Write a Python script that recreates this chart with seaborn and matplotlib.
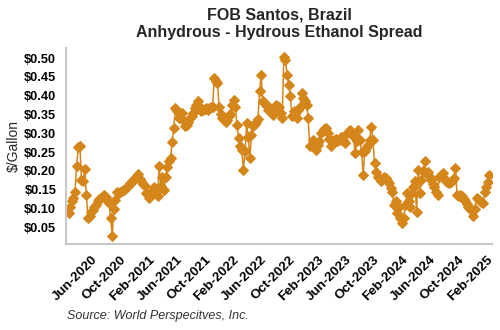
import numpy as np
import pandas as pd
import matplotlib
matplotlib.use("Agg")
import matplotlib.pyplot as plt
import matplotlib.dates as mdates
from matplotlib.ticker import FuncFormatter
import seaborn as sns

# Weekly FOB Santos spread, anhydrous minus hydrous ethanol ($/gallon)
start_date = "2020-02-21"
spread = [
    0.088, 0.105, 0.119, 0.128, 0.145, 0.214, 0.263, 0.265, 0.176, 0.172,
    0.205, 0.136, 0.074, 0.079, 0.090, 0.096, 0.105, 0.110, 0.119, 0.124,
    0.128, 0.133, 0.136, 0.130, 0.122, 0.114, 0.074, 0.028, 0.098, 0.123,
    0.145, 0.140, 0.143, 0.147, 0.150, 0.153, 0.158, 0.160, 0.167, 0.170,
    0.176, 0.180, 0.186, 0.192, 0.178, 0.172, 0.165, 0.160, 0.141, 0.135,
    0.128, 0.140, 0.150, 0.158, 0.145, 0.132, 0.212, 0.160, 0.185, 0.150,
    0.185, 0.210, 0.225, 0.234, 0.278, 0.314, 0.367, 0.360, 0.340, 0.350,
    0.354, 0.335, 0.318, 0.322, 0.331, 0.340, 0.345, 0.355, 0.367, 0.375,
    0.385, 0.370, 0.358, 0.362, 0.365, 0.367, 0.362, 0.367, 0.370, 0.371,
    0.447, 0.440, 0.434, 0.371, 0.350, 0.340, 0.335, 0.331, 0.335, 0.345,
    0.350, 0.375, 0.389, 0.371, 0.323, 0.287, 0.265, 0.256, 0.203, 0.252,
    0.327, 0.290, 0.234, 0.296, 0.318, 0.325, 0.331, 0.338, 0.411, 0.456,
    0.385, 0.380, 0.376, 0.362, 0.371, 0.365, 0.349, 0.365, 0.376, 0.373,
    0.371, 0.355, 0.340, 0.504, 0.495, 0.456, 0.429, 0.400, 0.345, 0.358,
    0.350, 0.340, 0.362, 0.370, 0.407, 0.395, 0.385, 0.376, 0.340, 0.265,
    0.270, 0.283, 0.270, 0.256, 0.270, 0.280, 0.300, 0.305, 0.310, 0.314,
    0.300, 0.285, 0.265, 0.280, 0.283, 0.285, 0.280, 0.283, 0.290, 0.283,
    0.280, 0.274, 0.300, 0.305, 0.309, 0.300, 0.292, 0.247, 0.280, 0.309,
    0.283, 0.250, 0.190, 0.252, 0.261, 0.270, 0.283, 0.316, 0.283, 0.221,
    0.196, 0.185, 0.180, 0.172, 0.180, 0.185, 0.180, 0.176, 0.167, 0.155,
    0.145, 0.110, 0.119, 0.088, 0.105, 0.075, 0.061, 0.074, 0.110, 0.141,
    0.120, 0.105, 0.141, 0.158, 0.172, 0.092, 0.203, 0.141, 0.176, 0.200,
    0.225, 0.194, 0.198, 0.185, 0.176, 0.165, 0.158, 0.145, 0.136, 0.185,
    0.190, 0.194, 0.180, 0.172, 0.170, 0.167, 0.170, 0.172, 0.180, 0.207,
    0.136, 0.132, 0.135, 0.132, 0.125, 0.119, 0.112, 0.105, 0.100, 0.097,
    0.079, 0.100, 0.128, 0.125, 0.119, 0.117, 0.114, 0.145, 0.158, 0.170,
    0.190,
]

title_lines = ["FOB Santos, Brazil", "Anhydrous - Hydrous Ethanol Spread"]
y_label = "$/Gallon"
y_ticks = [0.05, 0.10, 0.15, 0.20, 0.25, 0.30, 0.35, 0.40, 0.45, 0.50]
source_note = "Source: World Perspecitves, Inc."

df = pd.DataFrame({
    "date": pd.date_range(start_date, periods=len(spread), freq="7D"),
    "spread": spread,
})

sns.set_style("white")
plt.rcParams["font.family"] = ["Liberation Sans", "DejaVu Sans"]

line_color = "#D4861A"
fig = plt.figure(figsize=(5.0, 3.3), dpi=100)
ax = fig.add_axes([0.132, 0.261, 0.852, 0.594])

sns.lineplot(data=df, x="date", y="spread", ax=ax, color=line_color,
             linewidth=1.1, marker="D", markersize=5.2,
             markeredgecolor=line_color, markerfacecolor=line_color)

ax.set_xlim(pd.Timestamp("2020-02-10"), pd.Timestamp("2025-02-25"))
ax.set_ylim(0.006, 0.527)
ax.set_yticks(y_ticks)
ax.yaxis.set_major_formatter(FuncFormatter(lambda v, p: f"${v:.2f}"))
ax.xaxis.set_major_locator(mdates.MonthLocator(bymonth=[2, 6, 10]))
ax.xaxis.set_major_formatter(mdates.DateFormatter("%b-%Y"))

for side in ["top", "right"]:
    ax.spines[side].set_visible(False)
for side in ["left", "bottom"]:
    ax.spines[side].set_color("#C8C8C8")
    ax.spines[side].set_linewidth(1.5)

ax.tick_params(axis="both", which="major", direction="out", length=3.5,
               width=1.0, color="#404040", labelcolor="black")
ax.tick_params(axis="y", labelsize=9.2)
ax.tick_params(axis="x", labelsize=9.6)
for lab in ax.get_yticklabels():
    lab.set_fontweight("bold")
for lab in ax.get_xticklabels():
    lab.set_rotation(45)
    lab.set_ha("right")
    lab.set_rotation_mode("anchor")
    lab.set_fontweight("bold")

ax.set_xlabel("")
ax.set_ylabel(y_label, fontsize=10, labelpad=2)
ax.set_title("\n".join(title_lines), fontsize=11.5, fontweight="bold",
             linespacing=1.15, pad=8)

fig.text(0.134, 0.042, source_note, fontsize=9, style="italic",
         color="#333333", ha="left", va="center")

fig.savefig("out.png", dpi=100)
